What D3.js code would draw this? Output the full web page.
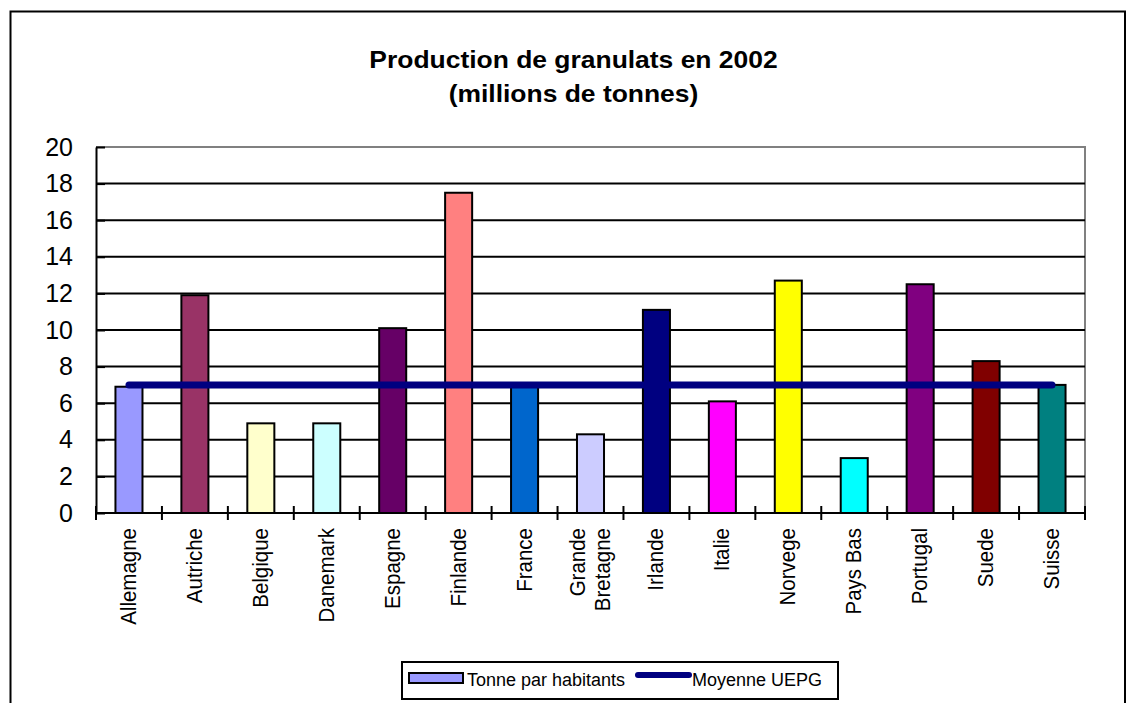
<!DOCTYPE html>
<html><head><meta charset="utf-8">
<script src="https://cdn.jsdelivr.net/npm/d3@7"></script>
<style>
html,body{margin:0;padding:0;background:#fff;}
svg{display:block;font-family:"Liberation Sans",Arial,sans-serif;}
</style></head>
<body>
<svg id="chart" width="1129" height="703"></svg>
<script>
const categories = ["Allemagne","Autriche","Belgique","Danemark","Espagne","Finlande","France","Grande Bretagne","Irlande","Italie","Norvege","Pays Bas","Portugal","Suede","Suisse"];
const values = [6.9,11.9,4.9,4.9,10.1,17.5,7.0,4.3,11.1,6.1,12.7,3.0,12.5,8.3,7.0];
const meanValue = [7,7,7,7,7,7,7,7,7,7,7,7,7,7,7];
const colors = ["#9999FF","#993366","#FFFFCC","#CCFFFF","#660066","#FF8080","#0066CC","#CCCCFF","#000080","#FF00FF","#FFFF00","#00FFFF","#800080","#800000","#008080"];
const yTicks = [0,2,4,6,8,10,12,14,16,18,20];
const titleLines = ["Production de granulats en 2002","(millions de tonnes)"];
const legendLabels = ["Tonne par habitants","Moyenne UEPG"];

const svg = d3.select("#chart");
const L = 96, R = 1085, T = 147, B = 513;

// outer frame
svg.append("path").attr("d","M10.5,720 V11.5 H1125 V720")
  .attr("fill","none").attr("stroke","#000").attr("stroke-width",2);

// title
const title = svg.append("g");
titleLines.forEach((t,i)=>{
  title.append("text")
    .attr("transform",`translate(573.5,${68+i*34}) scale(1.15,1)`)
    .attr("text-anchor","middle").attr("font-weight","bold").attr("font-size",23)
    .text(t);
});

const x = d3.scaleBand().domain(categories).range([L,R]).padding(0);
const y = d3.scaleLinear().domain([0,20]).range([B,T]);
const bw = x.bandwidth()*0.41;

// plot border (gray)
svg.append("path").attr("d",`M${L},${T} H${R} V${B}`)
  .attr("fill","none").attr("stroke","#808080").attr("stroke-width",2);

// gridlines
svg.append("g").selectAll("line").data(yTicks.filter(v=>v>0 && v<20)).join("line")
  .attr("x1",L).attr("x2",R).attr("y1",d=>y(d)).attr("y2",d=>y(d))
  .attr("stroke","#000").attr("stroke-width",2);

// bars
svg.append("g").selectAll("rect").data(values).join("rect")
  .attr("x",(d,i)=>x(categories[i])+x.bandwidth()/2-bw/2)
  .attr("width",bw)
  .attr("y",d=>y(d)).attr("height",d=>y(0)-y(d))
  .attr("fill",(d,i)=>colors[i]).attr("stroke","#000").attr("stroke-width",2);

// mean line
const line = d3.line().x((d,i)=>x(categories[i])+x.bandwidth()/2).y(d=>y(d));
svg.append("path").datum(meanValue).attr("d",line)
  .attr("fill","none").attr("stroke","#000080").attr("stroke-width",7)
  .attr("stroke-linecap","round");

// y axis
const yAxis = svg.append("g").attr("transform",`translate(${L},0)`)
  .call(d3.axisLeft(y).tickValues(yTicks).tickSizeInner(-9).tickSizeOuter(0).tickPadding(23));
yAxis.select(".domain").attr("stroke","#000").attr("stroke-width",2);
yAxis.selectAll(".tick line").attr("stroke","#000").attr("stroke-width",2);
yAxis.selectAll(".tick text").attr("font-size",25).attr("fill","#000")
  .attr("font-family","'Liberation Sans',Arial,sans-serif");

// x axis line + crossing ticks at band boundaries
const xAxisG = svg.append("g");
xAxisG.append("line").attr("x1",L-1).attr("x2",R+1).attr("y1",B).attr("y2",B)
  .attr("stroke","#000").attr("stroke-width",2);
const bounds = categories.map(c=>x(c)).concat([x(categories[categories.length-1])+x.bandwidth()]);
xAxisG.selectAll("line.tk").data(bounds).join("line").attr("class","tk")
  .attr("x1",d=>d).attr("x2",d=>d).attr("y1",B-7).attr("y2",B+7)
  .attr("stroke","#000").attr("stroke-width",2);

// category labels
const labG = svg.append("g");
categories.forEach((c,i)=>{
  const cx = x(c)+x.bandwidth()/2;
  const parts = c === "Grande Bretagne" ? ["Grande","Bretagne"] : [c];
  parts.forEach((p,j)=>{
    const off = (j-(parts.length-1)/2)*25;
    labG.append("text")
      .attr("transform",`translate(${cx+off+7},528) rotate(-90) scale(1,1.1)`)
      .attr("text-anchor","end").attr("font-size",20.5).text(p);
  });
});

// legend
const lg = svg.append("g");
lg.append("rect").attr("x",402).attr("y",662).attr("width",436).attr("height",37)
  .attr("fill","#fff").attr("stroke","#000").attr("stroke-width",2);
lg.append("rect").attr("x",409).attr("y",673).attr("width",54).attr("height",10)
  .attr("fill",colors[0]).attr("stroke","#000").attr("stroke-width",2);
lg.append("text").attr("x",467).attr("y",686).attr("font-size",18).text(legendLabels[0]);
lg.append("line").attr("x1",638).attr("x2",689).attr("y1",675).attr("y2",675)
  .attr("stroke","#000080").attr("stroke-width",6).attr("stroke-linecap","round");
lg.append("text").attr("x",692).attr("y",686).attr("font-size",18).text(legendLabels[1]);
</script>
</body></html>
